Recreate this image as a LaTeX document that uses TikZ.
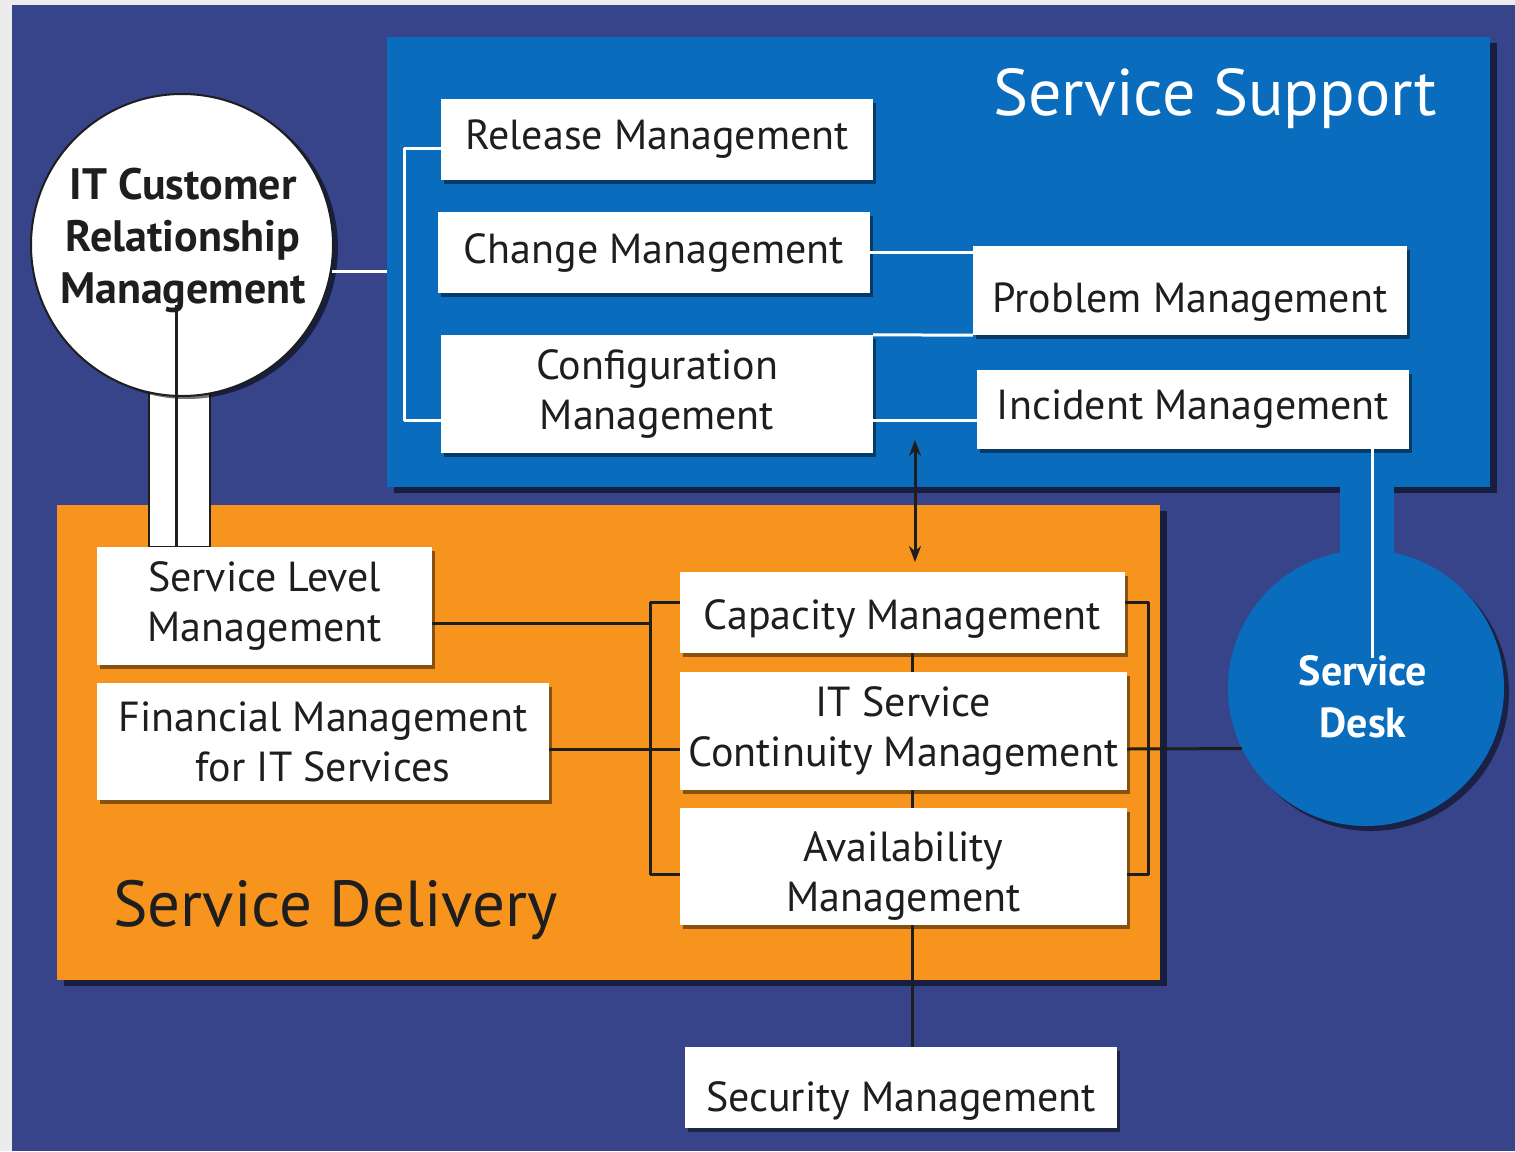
\documentclass[tikz,border=0pt]{standalone}
\usepackage{fontspec}
\setmainfont{PT Sans}
\usetikzlibrary{shadows,arrows.meta}
\definecolor{navy}{RGB}{55,68,138}
\definecolor{ssblue}{RGB}{10,108,188}
\definecolor{sdorange}{RGB}{247,148,30}
\definecolor{rim}{RGB}{236,236,236}
\definecolor{ink}{RGB}{30,30,30}

\begin{document}
\begin{tikzpicture}[x=1pt, y=-1pt, line join=round, >={Stealth[length=16pt,width=12pt]}]
	\tikzset{
		box/.style={fill=white, text=ink, align=center, inner sep=0pt, font=\fontsize{42}{50}\selectfont,
			drop shadow={shadow xshift=3pt, shadow yshift=-4pt, opacity=.45, fill=black}},
		area/.style={inner sep=0pt, drop shadow={shadow xshift=7pt, shadow yshift=-6pt, opacity=.55, fill=black}},
		sink/.style={text height=#1},
		wline/.style={draw=white, line width=3pt},
		bline/.style={draw=ink, line width=3pt},
		title/.style={font=\fontsize{66}{70}\selectfont, inner sep=0pt, anchor=base west},
		bold/.style={font=\fontsize{44}{52}\selectfont\bfseries, align=center, inner sep=0pt},
	}
	\useasboundingbox (0,0) rectangle (1515,1151);
	% background
	\fill[rim] (0,0) rectangle (1515,1151);
	\fill[navy] (12,5) rectangle (1515,1151);
	% Service Support area and Service Desk
	\node[area, fill=ssblue, minimum width=1103pt, minimum height=450pt] (ss) at (938.5,262) {};
	\fill[ssblue] (1340,480) rectangle (1394,600);
	\node[circle, fill=ssblue, minimum size=276pt, inner sep=0pt, drop shadow={shadow xshift=5pt, shadow yshift=-5pt, opacity=.5, fill=black}] (desk) at (1366,688) {};
	% Service Delivery area and customer circle
	\node[area, fill=sdorange, minimum width=1103pt, minimum height=475pt] (sd) at (608.5,742.5) {};
	\draw[fill=white, draw=ink, line width=1.5pt] (149,380) rectangle (210,547);
	\node[circle, fill=white, draw=ink, line width=2pt, minimum size=302pt, inner sep=0pt, drop shadow={shadow xshift=5pt, shadow yshift=-3pt, opacity=.55, fill=black}] (crm) at (182,245) {};
	% processes
	\node[box, minimum width=432pt, minimum height=81pt] (rel) at (657,139.5) {Release Management};
	\node[box, minimum width=432pt, minimum height=81pt] (chg) at (654,252.5) {Change Management};
	\node[box, minimum width=432pt, minimum height=118pt] (cfg) at (657,394) {Configuration\\Management};
	\node[box, sink=52pt, minimum width=434pt, minimum height=89pt] (prb) at (1190,290.5) {Problem Management};
	\node[box, minimum width=432pt, minimum height=79pt] (inc) at (1193,409.5) {Incident Management};
	\node[box, minimum width=335pt, minimum height=118pt] (slm) at (264.5,606) {Service Level\\Management};
	\node[box, minimum width=452pt, minimum height=117pt] (fin) at (323,741.5) {Financial Management\\for IT Services};
	\node[box, sink=43pt, minimum width=445pt, minimum height=81pt] (cap) at (902.5,612.5) {Capacity Management};
	\node[box, minimum width=447pt, minimum height=118pt] (itscm) at (903.5,731) {IT Service\\Continuity Management};
	\node[box, sink=99pt, minimum width=447pt, minimum height=117pt] (avl) at (903.5,866.5) {Availability\\Management};
	\node[box, sink=56pt, minimum width=432pt, minimum height=81pt] (sec) at (901,1087.5) {Security Management};
	% white links in Service Support
	\coordinate (crmlink) at (crm.-10);
	\draw[wline] (crmlink) -- (crmlink -| ss.west);
	\coordinate (c1) at ([yshift=-26pt]cfg.east);
	\coordinate (c2) at ([yshift=-26pt]cfg.west);
	\draw[wline] ([yshift=-9pt]rel.west) -- ++(-36pt,0) |- (c2);
	\draw[wline] (chg.east) -- (chg.east -| prb.west);
	\draw[wline] (cfg.north east) -- (prb.south west);
	\draw[wline] (c1) -- (c1 -| inc.west);
	\coordinate (d1) at ([xshift=6pt,yshift=30pt]desk.center);
	\draw[wline] (d1 |- inc.south) -- (d1);
	% black links in Service Delivery
	\coordinate (crmfoot) at ([xshift=-6pt,yshift=-60pt]crm.center);
	\draw[bline] (crmfoot) -- (crmfoot |- slm.north);
	\coordinate (lbr) at (650,0);
	\coordinate (rbr) at (1148,0);
	\coordinate (vx) at (912,0);
	\coordinate (s1) at ([yshift=-17pt]slm.east);
	\draw[bline] (s1) -- (s1 -| lbr);
	\coordinate (t1) at ([yshift=10pt]cap.west);
	\coordinate (b1) at ([yshift=-8pt]avl.west);
	\draw[bline] (t1) -- (t1 -| lbr) -- (b1 -| lbr) -- (b1);
	\coordinate (t2) at ([yshift=10pt]cap.east);
	\coordinate (b2) at ([yshift=-8pt]avl.east);
	\draw[bline] (t2) -- (t2 -| rbr) -- (b2 -| rbr) -- (b2);
	\coordinate (m1) at ([yshift=-18pt]itscm.west);
	\draw[bline] (m1 -| fin.east) -- (m1);
	\draw[bline] (m1 -| itscm.east) -- (desk.206);
	\draw[bline] (vx |- cap.south) -- (vx |- itscm.north);
	\draw[bline] (vx |- itscm.south) -- (vx |- avl.north);
	\draw[bline] (vx |- avl.south) -- (vx |- sec.north);
	\coordinate (a1) at (915,440);
	\coordinate (a2) at (915,562);
	\draw[bline, <->] (a1) -- (a2);
	% texts
	\node[bold, text=ink] (crmtext) at (183,240) {IT Customer\\Relationship\\Management};
	\node[bold, text=white, font=\fontsize{42}{52}\selectfont\bfseries] (desktext) at (1363,697) {Service\\Desk};
	\node[title, text=white] (sstitle) at (993,115) {Service Support};
	\node[title, text=ink, font=\fontsize{65}{70}\selectfont] (sdtitle) at (113,926) {Service Delivery};
\end{tikzpicture}
\end{document}
